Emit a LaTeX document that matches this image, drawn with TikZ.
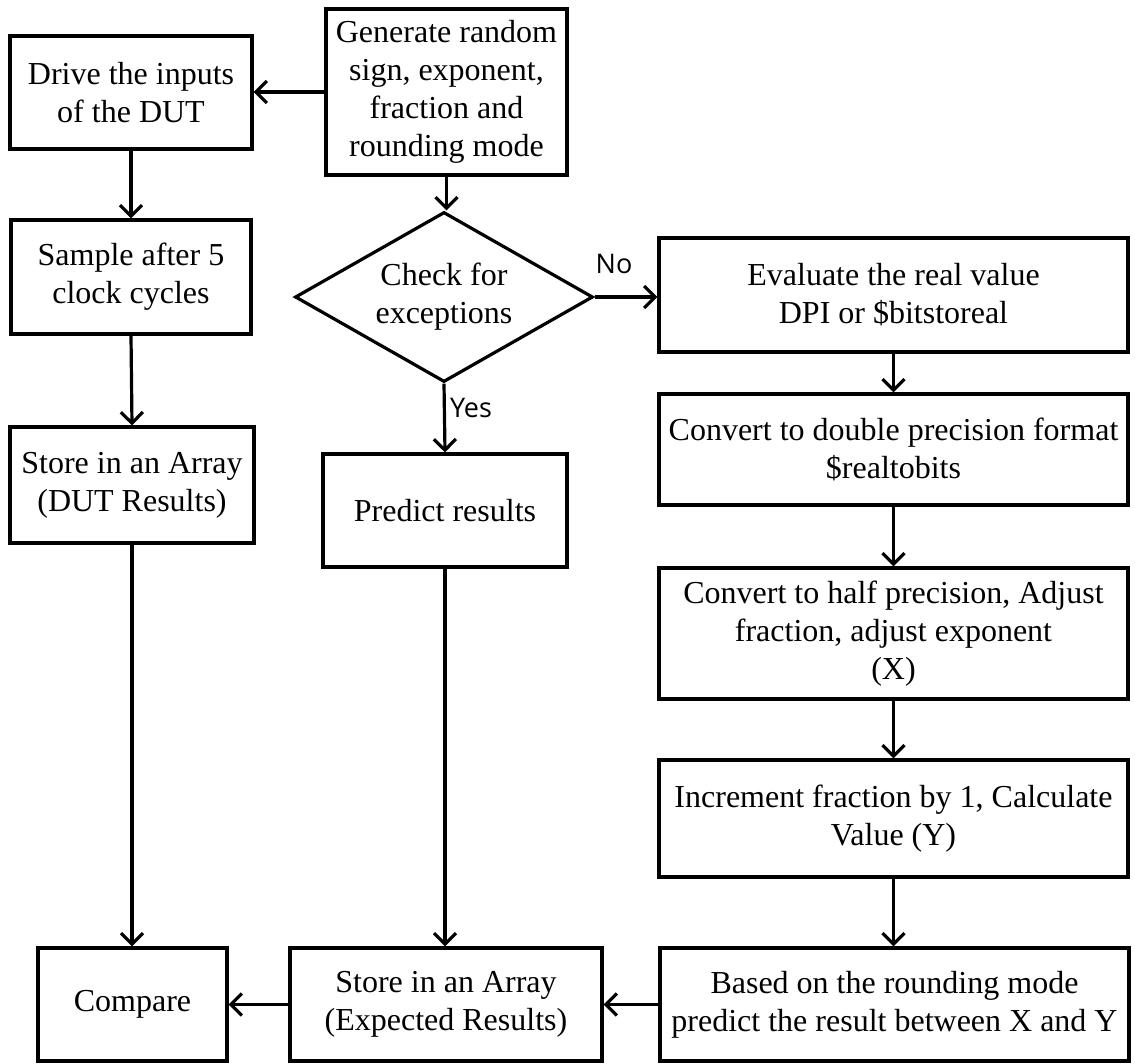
\documentclass[tikz,border=0pt]{standalone}
\usepackage{fontspec}
\setmainfont{Liberation Serif}
\newfontfamily\labelfont{Open Sans}
\usetikzlibrary{shapes.geometric,arrows.meta}

\begin{document}
\begin{tikzpicture}[x=1pt,y=-1pt,
  box/.style={draw, line width=3.2pt, align=center, inner sep=0pt,
    font=\fontsize{32pt}{38pt}\selectfont},
  decision/.style={draw, diamond, aspect=1.75, line width=3.2pt, align=center,
    inner sep=0pt, minimum width=298pt, minimum height=170pt,
    font=\fontsize{32pt}{38pt}\selectfont},
  arr/.style={line width=3.2pt, -{Straight Barb[length=11pt,width=22pt,line width=3.2pt]}},
  tag/.style={font=\labelfont\fontsize{27pt}{30pt}\selectfont, inner sep=0pt}]

\useasboundingbox (0,0) rectangle (1135,1063);

% left column: stimulus and DUT sampling
\node[box, minimum width=242pt, minimum height=113pt] (drive) at (131,92.5)
  {Drive the inputs\\of the DUT};
\node[box, minimum width=241pt, minimum height=166pt] (gen) at (446.5,92)
  {Generate random\\sign, exponent,\\fraction and\\rounding mode};
\node[box, minimum width=240pt, minimum height=114pt] (sample) at (131,277)
  {Sample after 5\\clock cycles};
\node[box, minimum width=244pt, minimum height=116pt] (sdut) at (132,485)
  {Store in an Array\\(DUT Results)};

% middle column: exception check and prediction
\node[decision] (dia) at (444,297) {Check for\\exceptions};
\node[box, minimum width=244pt, minimum height=113pt] (pred) at (445,510.5)
  {Predict results};

% right column: reference model computation
\node[box, minimum width=469pt, minimum height=114pt] (eval) at (893.5,295)
  {Evaluate the real value\\DPI or \$bitstoreal};
\node[box, minimum width=469pt, minimum height=111pt] (dbl) at (893.5,449.5)
  {Convert to double precision format\\\$realtobits};
\node[box, minimum width=469pt, minimum height=131pt] (half) at (893.5,633.5)
  {Convert to half precision, Adjust\\fraction, adjust exponent\\(X)};
\node[box, minimum width=469pt, minimum height=117pt] (inc) at (893.5,818.5)
  {Increment fraction by 1, Calculate\\Value (Y)};

% bottom row
\node[box, minimum width=189pt, minimum height=113pt] (cmp) at (132.5,1004.5)
  {Compare};
\node[box, minimum width=312pt, minimum height=113pt] (sexp) at (446,1004.5)
  {Store in an Array\\(Expected Results)};
\node[box, minimum width=469pt, minimum height=113pt] (based) at (894.5,1004.5)
  {Based on the rounding mode\\predict the result between X and Y};

% connectors
\draw[arr] (gen.west) -- (gen.west -| drive.east);
\draw[arr] (drive.south) -- (sample.north);
\draw[arr] (sample.south) -- (sdut.north);
\draw[arr] (sdut.south) -- (sdut.south |- cmp.north);
\draw[arr] (gen.south) -- (gen.south |- dia.north);
\draw[arr] (dia.east) -- (dia.east -| eval.west);
\draw[arr] (dia.south) -- (pred.north);
\draw[arr] (pred.south) -- (pred.south |- sexp.north);
\draw[arr] (eval.south) -- (dbl.north);
\draw[arr] (dbl.south) -- (half.north);
\draw[arr] (half.south) -- (inc.north);
\draw[arr] (inc.south) -- (inc.south |- based.north);
\draw[arr] (based.west) -- (sexp.east);
\draw[arr] (sexp.west) -- (cmp.east);

% branch labels
\node[tag] (no) at (614,264) {No};
\node[tag] (yes) at (471,408) {Yes};
\end{tikzpicture}
\end{document}
